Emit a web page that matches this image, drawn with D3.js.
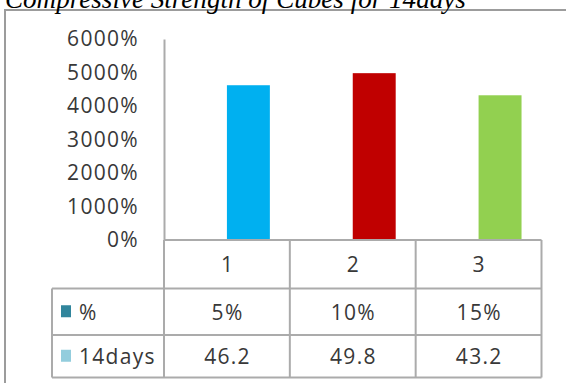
<!DOCTYPE html>
<html>
<head>
<meta charset="utf-8">
<script src="https://cdn.jsdelivr.net/npm/d3@7/dist/d3.min.js"></script>
<style>
  html, body { margin: 0; padding: 0; background: #fff; }
  svg { display: block; }
</style>
</head>
<body>
<svg id="chart" width="566" height="383"></svg>
<script>
// Chart data
const titleText = "Compressive Strength of Cubes for 14days";
const categories = ["1", "2", "3"];
const seriesNames = ["%", "14days"];
const percentValues = [0.05, 0.10, 0.15];      // "%" series
const strengthValues = [46.2, 49.8, 43.2];     // "14days" series
const percentLabels = ["5%", "10%", "15%"];
const strengthLabels = ["46.2", "49.8", "43.2"];
const yTicks = [0, 10, 20, 30, 40, 50, 60];
const pointColors = ["#00B0F0", "#C00000", "#92D050"];
const legendColors = ["#31859C", "#93CDDD"];

const svg = d3.select("#chart");
const font = "'Open Sans', 'DejaVu Sans', sans-serif";
const textColor = "#383838";
const gridColor = "#ABABAB";
const fontSize = 21;
const spacing = 1.3;

// Outer frame
svg.append("rect")
  .attr("x", 5).attr("y", 10)
  .attr("width", 600).attr("height", 400)
  .attr("fill", "none")
  .attr("stroke", "#9C9C9C")
  .attr("stroke-width", 2);

// Title (italic serif), fitted to its line width
const title = svg.append("text")
  .attr("x", 5).attr("y", 8)
  .attr("font-family", "'Liberation Serif', 'Times New Roman', serif")
  .attr("font-style", "italic")
  .attr("font-size", 24)
  .attr("fill", "#000")
  .text(titleText);
const tw = title.node().getComputedTextLength();
title.attr("font-size", 24 * 461 / tw);

// Scales
const plotLeft = 164, plotRight = 541.5, plotTop = 39, plotBottom = 240;
const x = d3.scaleBand().domain(categories).range([plotLeft, plotRight]).padding(0);
const xs = d3.scaleBand().domain(seriesNames).range([0, x.bandwidth()])
  .paddingInner(0).paddingOuter(0.465);
const y = d3.scaleLinear().domain([0, 60]).range([plotBottom, plotTop]);

// Y axis
const yAxis = d3.axisLeft(y)
  .tickValues(yTicks)
  .tickSize(0)
  .tickPadding(25)
  .tickFormat(d => d3.format("d")(d * 100) + "%");
const gy = svg.append("g")
  .attr("transform", `translate(${plotLeft},0)`)
  .call(yAxis);
gy.select(".domain").attr("stroke", gridColor).attr("stroke-width", 2);
gy.selectAll("text")
  .attr("font-family", font)
  .attr("font-size", fontSize)
  .attr("letter-spacing", spacing)
  .attr("fill", textColor);

// Bars: "%" series (tiny) and "14days" series with per-point colors
const barsPct = svg.append("g");
barsPct.selectAll("rect")
  .data(percentValues)
  .join("rect")
  .attr("x", (d, i) => x(categories[i]) + xs("%"))
  .attr("y", d => y(d))
  .attr("width", xs.bandwidth())
  .attr("height", d => y(0) - y(d))
  .attr("fill", legendColors[0]);

const barsStr = svg.append("g");
barsStr.selectAll("rect")
  .data(strengthValues)
  .join("rect")
  .attr("x", (d, i) => x(categories[i]) + xs("14days"))
  .attr("y", d => y(d))
  .attr("width", xs.bandwidth())
  .attr("height", d => y(0) - y(d))
  .attr("fill", (d, i) => pointColors[i]);

// Data table below the plot
const rowY = [240, 288.5, 335, 377.5];
const legendLeft = 52;
const table = svg.append("g")
  .attr("stroke", gridColor)
  .attr("stroke-width", 2)
  .attr("fill", "none");

// horizontal rules
table.append("line").attr("x1", plotLeft).attr("x2", plotRight).attr("y1", rowY[0]).attr("y2", rowY[0]);
[rowY[1], rowY[2], rowY[3]].forEach(yy => {
  table.append("line").attr("x1", legendLeft).attr("x2", plotRight).attr("y1", yy).attr("y2", yy);
});
// vertical rules
table.append("line").attr("x1", legendLeft).attr("x2", legendLeft).attr("y1", rowY[1]).attr("y2", rowY[3]);
categories.forEach(c => {
  const xx = x(c);
  table.append("line").attr("x1", xx).attr("x2", xx).attr("y1", rowY[0]).attr("y2", rowY[3]);
});
table.append("line").attr("x1", plotRight).attr("x2", plotRight).attr("y1", rowY[0]).attr("y2", rowY[3]);

function cellText(txt, cx, cy, anchor) {
  svg.append("text")
    .attr("x", cx).attr("y", cy)
    .attr("dy", "0.36em")
    .attr("text-anchor", anchor || "middle")
    .attr("font-family", font)
    .attr("font-size", fontSize)
    .attr("letter-spacing", spacing)
    .attr("fill", textColor)
    .text(txt);
}

const rowMid = [ (rowY[0] + rowY[1]) / 2, (rowY[1] + rowY[2]) / 2 + 0.5, (rowY[2] + rowY[3]) / 2 + 0.5 ];
categories.forEach((c, i) => {
  const cx = x(c) + x.bandwidth() / 2 + spacing / 2;
  cellText(c, cx, rowMid[0]);
  cellText(percentLabels[i], cx, rowMid[1]);
  cellText(strengthLabels[i], cx, rowMid[2]);
});

// Legend keys in the table
seriesNames.forEach((name, i) => {
  const cy = rowMid[i + 1];
  svg.append("rect")
    .attr("x", 61).attr("y", cy - 7)
    .attr("width", 10).attr("height", 12)
    .attr("fill", legendColors[i]);
  cellText(name, 79, cy, "start");
});
</script>
</body>
</html>
